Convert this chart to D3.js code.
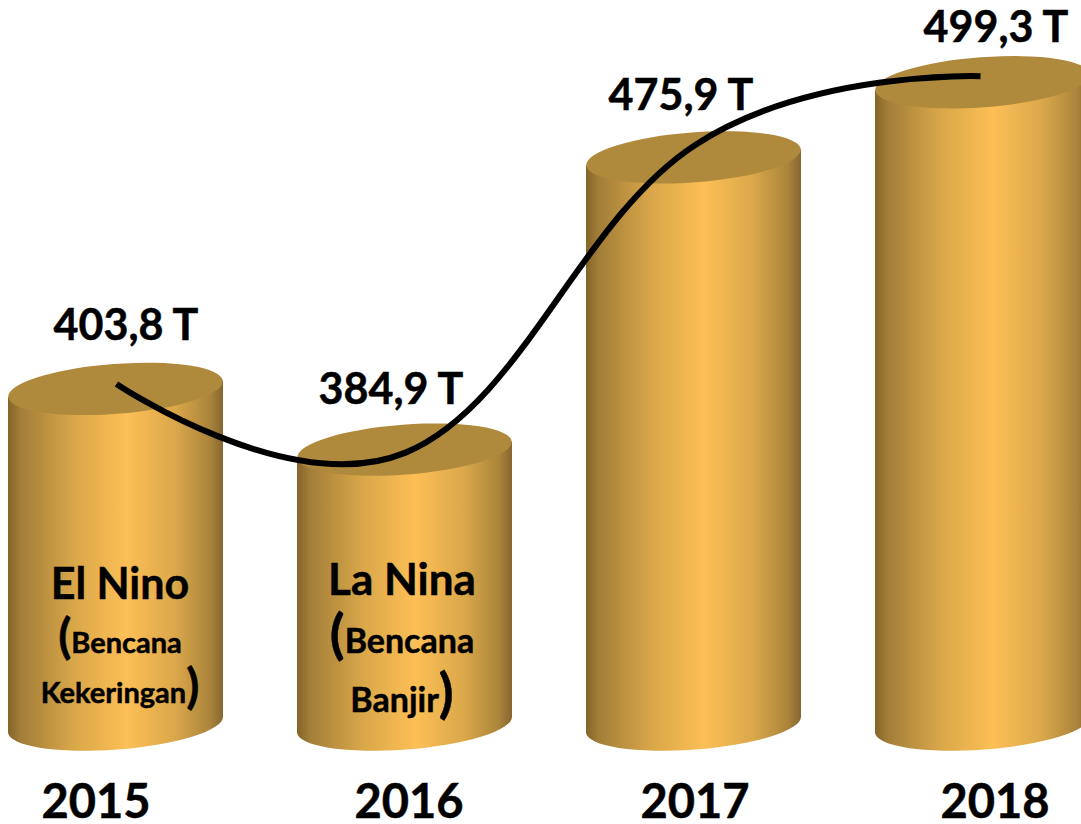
<!DOCTYPE html>
<html>
<head>
<meta charset="utf-8">
<script src="https://cdn.jsdelivr.net/npm/d3@7"></script>
<style>
  body { margin: 0; background: #fff; overflow: hidden; }
  svg { display: block; }
  text { font-family: Lato, "Open Sans", sans-serif; font-weight: 700; fill: #000; stroke: #000; stroke-width: 0.5px; }
</style>
</head>
<body>
<script>
// values in trillion rupiah
var years = ["2015", "2016", "2017", "2018"];
var values = [403.8, 384.9, 475.9, 499.3];
var valueLabels = ["403,8 T", "384,9 T", "475,9 T", "499,3 T"];
var notes = [
  { head: "El Nino", line1: "Bencana", line2: "Kekeringan" },
  { head: "La Nina", line1: "Bencana", line2: "Banjir" }
];

var w = 1081, h = 824;

var x = d3.scaleBand().domain(years).range([8, 1090]).paddingInner(0.256);
var y = d3.scaleLinear().domain([299.3, 500]).range([724.5, 80]);

var rx = x.bandwidth() / 2, ry = 25, tilt = -4.3;
var tipX = rx, tipY = rx * Math.tan(-tilt * Math.PI / 180);

var svg = d3.select("body").append("svg")
            .attr("width", w)
            .attr("height", h);

var grad = svg.append("defs").append("linearGradient").attr("id", "body");
grad.selectAll("stop")
    .data([[0, "#846429"], [0.06, "#a27e38"], [0.3, "#d8a649"], [0.55, "#fdbf56"],
           [0.78, "#daa74a"], [0.94, "#aa843b"], [1, "#866630"]])
    .enter().append("stop")
    .attr("offset", function(d) { return d[0]; })
    .attr("stop-color", function(d) { return d[1]; });

// cylinder body: straight sides, rounded bottom
svg.selectAll("path.body")
   .data(years)
   .enter().append("path")
   .attr("class", "body")
   .attr("fill", "url(#body)")
   .attr("d", function(d, i) {
       var cx = x(d) + rx, top = y(values[i]), bot = y.range()[0];
       return "M" + (cx - tipX) + "," + (top + tipY) +
              "L" + (cx - tipX) + "," + (bot + tipY) +
              "A" + rx + "," + ry + " " + tilt + " 0 0 " + (cx + tipX) + "," + (bot - tipY) +
              "L" + (cx + tipX) + "," + (top - tipY) + "Z";
   });

// top lids
svg.selectAll("ellipse")
   .data(years)
   .enter().append("ellipse")
   .attr("rx", rx)
   .attr("ry", ry)
   .attr("fill", "#b08a3c")
   .attr("transform", function(d, i) {
       return "translate(" + (x(d) + rx) + "," + y(values[i]) + ") rotate(" + tilt + ")";
   });

// the trend line was hand placed in the original, so it does not sit on the lid centres
var lineDx = [1, 1, 1, -2], lineDy = [-5, 3, -12, -6];
var line = d3.line()
    .x(function(d, i) { return x(years[i]) + rx + lineDx[i]; })
    .y(function(d, i) { return y(d) + lineDy[i]; })
    .curve(d3.curveCardinal.tension(-0.2));

svg.append("path")
   .datum(values)
   .attr("d", line)
   .attr("fill", "none")
   .attr("stroke", "#000")
   .attr("stroke-width", 6);

var labelX = [126, 391, 681, 996], labelY = [340, 404, 110, 42];
svg.selectAll("text.value")
   .data(valueLabels)
   .enter().append("text")
   .attr("class", "value")
   .attr("x", function(d, i) { return labelX[i]; })
   .attr("y", function(d, i) { return labelY[i]; })
   .attr("text-anchor", "middle")
   .attr("font-size", 43)
   .text(function(d) { return d; });

var yearX = [96, 409, 695, 995];
svg.selectAll("text.year")
   .data(years)
   .enter().append("text")
   .attr("class", "year")
   .attr("x", function(d, i) { return yearX[i]; })
   .attr("y", 818)
   .attr("text-anchor", "middle")
   .attr("font-size", 47)
   .text(function(d) { return d; });

// notes inside the two short cylinders
var noteX = [120, 402], headY = [599, 595], line1Y = [653, 653], line2Y = [703, 712];
var headSize = [43, 44], noteSize = [29, 34], parenSize = [48, 54];
var noteG = svg.selectAll("g.note").data(notes).enter().append("g").attr("class", "note");

noteG.append("text")
     .attr("x", function(d, i) { return noteX[i]; })
     .attr("y", function(d, i) { return headY[i]; })
     .attr("text-anchor", "middle")
     .attr("font-size", function(d, i) { return headSize[i]; })
     .text(function(d) { return d.head; });

var first = noteG.append("text")
     .attr("x", function(d, i) { return noteX[i]; })
     .attr("y", function(d, i) { return line1Y[i]; })
     .attr("text-anchor", "middle")
     .attr("font-size", function(d, i) { return noteSize[i]; });
first.append("tspan").attr("font-size", function(d, i) { return parenSize[i]; }).text("(");
first.append("tspan").text(function(d) { return d.line1; });

var second = noteG.append("text")
     .attr("x", function(d, i) { return noteX[i]; })
     .attr("y", function(d, i) { return line2Y[i]; })
     .attr("text-anchor", "middle")
     .attr("font-size", function(d, i) { return noteSize[i]; });
second.append("tspan").text(function(d) { return d.line2; });
second.append("tspan").attr("font-size", function(d, i) { return parenSize[i]; }).text(")");
</script>
</body>
</html>
